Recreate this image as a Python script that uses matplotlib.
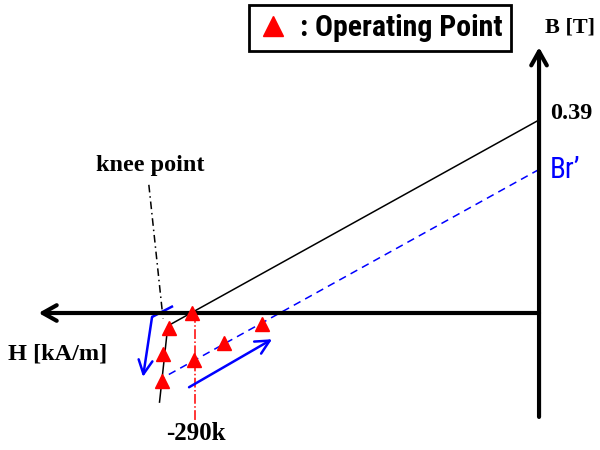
import os
import matplotlib
matplotlib.use("Agg")
import matplotlib.pyplot as plt
from matplotlib import font_manager
from matplotlib.lines import Line2D

# Demagnetisation curve (H in kA/m, B in T)
H_curve = [0, -313, -320]
B_curve = [0.39, -0.026, -0.18]
Br = 0.39

# Shifted curve after temperature rise
H_shift = [0, -318]
B_shift = [0.29, -0.132]
Br_shift = 0.29

# Operating points
H_op = [-293, -312, -317, -318, -291, -266, -234]
B_op = [0.0, -0.030, -0.083, -0.137, -0.095, -0.061, -0.022]

H_knee = -290


def narrow_font(names):
    # first installed file out of the candidates, else plain Liberation Sans
    files = {os.path.basename(f.fname): f.fname
             for f in font_manager.fontManager.ttflist}
    for n in names:
        if n in files:
            return font_manager.FontProperties(fname=files[n])
    return None


bold_narrow = narrow_font(["LiberationSansNarrow-Bold.ttf", "RobotoCondensed-Bold.ttf",
                           "NotoSans-CondensedBold.ttf", "OpenSans-CondensedBold.ttf",
                           "DejaVuSansCondensed-Bold.ttf", "LiberationSans-Bold.ttf"])
reg_narrow = narrow_font(["LiberationSansNarrow-Regular.ttf", "RobotoCondensed-Regular.ttf",
                          "NotoSans-Condensed.ttf", "OpenSans-CondensedRegular.ttf",
                          "DejaVuSansCondensed.ttf", "LiberationSans-Regular.ttf"])

serif = dict(family="Liberation Serif", weight="bold")

fig = plt.figure(figsize=(6, 4.5), dpi=100)
ax = fig.add_axes([0, 0, 1, 1])
ax.set_xlim(-454.5, 51.4)
ax.set_ylim(-0.2768, 0.6324)
ax.axis("off")

# axes with arrows
ax.annotate("", xy=(-422, 0), xytext=(0, 0),
            arrowprops=dict(arrowstyle="->,head_length=0.5,head_width=0.28",
                            lw=3, color="black", mutation_scale=20,
                            shrinkA=0, shrinkB=0))
ax.annotate("", xy=(0, 0.537), xytext=(0, -0.21),
            arrowprops=dict(arrowstyle="->,head_length=0.5,head_width=0.28",
                            lw=3, color="black", mutation_scale=20,
                            shrinkA=0, shrinkB=0))

# B-H curves
ax.plot(H_curve, B_curve, color="black", lw=1.1)
ax.plot(H_shift, B_shift, color="blue", lw=1.1, ls=(0, (5, 3.5)))

# -290k marker line
ax.plot([H_knee, H_knee], [0, -0.22], color="red", lw=1.1, ls="-.")

# knee point leader
ax.plot([-329, -317], [0.259, -0.012], color="black", lw=1.1, ls=(0, (5, 2.5, 1, 2.5)))

# blue arrows
ax.plot([-308.6, -326.3], [0.014, -0.008], color="blue", lw=1.8,
        solid_capstyle="butt")
ax.annotate("", xy=(-333.9, -0.129), xytext=(-326.3, -0.008),
            arrowprops=dict(arrowstyle="->,head_length=0.5,head_width=0.25",
                            lw=1.8, color="blue", mutation_scale=20,
                            shrinkA=0, shrinkB=0))
ax.annotate("", xy=(-225.1, -0.053), xytext=(-295.1, -0.150),
            arrowprops=dict(arrowstyle="->,head_length=0.5,head_width=0.25",
                            lw=1.8, color="blue", mutation_scale=20,
                            shrinkA=0, shrinkB=0))

ax.plot(H_op, B_op, ls="none", marker="^", color="red", ms=9.5, zorder=5)

# labels
ax.text(5, 0.576, "B [T]", fontsize=16, va="center", ha="left", **serif)
ax.text(9, 0.404, f"{Br:.2f}", fontsize=17.5, va="center", ha="left", **serif)
br_txt = ax.text(9, 0.289, "Br\u2019", va="center", ha="left", color="blue",
                 fontproperties=reg_narrow)
br_txt.set_fontsize(21)
ax.text(-328, 0.299, "knee point", fontsize=17.5, va="center", ha="center", **serif)
ax.text(-448, -0.083, "H [kA/m]", fontsize=17.5, va="center", ha="left", **serif)
ax.text(-289, -0.243, f"{H_knee}k", fontsize=18, va="center", ha="center", **serif)

leg_prop = bold_narrow.copy()
leg_prop.set_size(21.5)
handle = Line2D([], [], ls="none", marker="^", color="red", ms=15)
leg = ax.legend([handle], [": Operating Point"], loc="upper left",
                bbox_to_anchor=(249 / 600, 1 - 5 / 450), borderaxespad=0,
                frameon=True, fancybox=False, edgecolor="black", framealpha=1,
                handlelength=1.0, handletextpad=0.4, borderpad=0.3,
                prop=leg_prop)
leg.get_frame().set_linewidth(2)

fig.savefig("out.png", dpi=100)
